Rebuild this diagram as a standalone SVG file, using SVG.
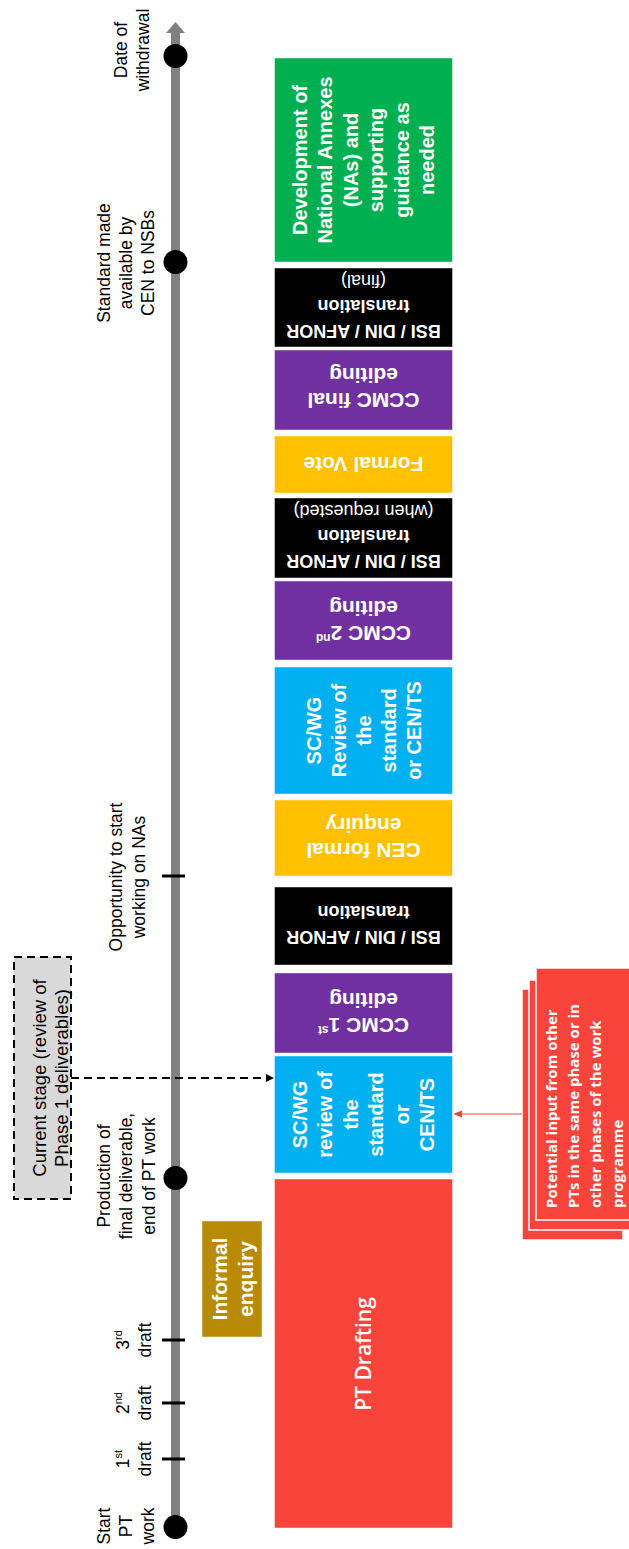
<svg xmlns="http://www.w3.org/2000/svg" width="629" height="1549" viewBox="0 0 629 1549">
  <style>
    .lbl { font-family: "Liberation Sans", Arial, sans-serif; font-size: 17.5px; fill: #000; text-anchor: middle; }
    .cur { font-family: "Liberation Sans", Arial, sans-serif; font-size: 18.5px; fill: #000; text-anchor: middle; }
    .bx { font-family: "Liberation Sans", Arial, sans-serif; font-weight: bold; fill: #fff; text-anchor: middle; }
    .bx20 { font-size: 20px; }
    .bx21 { font-size: 21px; }
    .bx18 { font-size: 18px; }
    .reg { font-weight: normal; }
    .cal { font-family: "Open Sans", "Noto Sans", sans-serif; fill: #fff; }
    .box { stroke: #fff; stroke-opacity: 0.45; stroke-width: 1; }
    .tick { stroke: #000; stroke-width: 3; }
    .dot { fill: #000; }
  </style>

  <!-- time axis -->
  <g id="timeline">
    <line x1="175.5" y1="1527" x2="175.5" y2="32" stroke="#808080" stroke-width="9"/>
    <polygon points="175.5,22 166,33 185,33" fill="#808080"/>
    <line class="tick" x1="162" y1="1459" x2="185" y2="1459"/>
    <line class="tick" x1="162" y1="1403" x2="185" y2="1403"/>
    <line class="tick" x1="162" y1="1340" x2="185" y2="1340"/>
    <line class="tick" x1="162" y1="876" x2="185" y2="876"/>
    <circle class="dot" cx="175.5" cy="1527" r="12"/>
    <circle class="dot" cx="175.5" cy="1178" r="12"/>
    <circle class="dot" cx="175.5" cy="262" r="12"/>
    <circle class="dot" cx="175.5" cy="56" r="12"/>
  </g>

  <!-- milestone labels -->
  <g id="milestones">
    <text class="lbl" transform="translate(0,1526) rotate(-90)">
      <tspan x="0" y="110">Start</tspan><tspan x="0" y="132">PT</tspan><tspan x="0" y="154">work</tspan>
    </text>
    <text class="lbl" transform="translate(0,1459) rotate(-90)">
      <tspan x="0" y="129">1<tspan font-size="11" dy="-7">st</tspan></tspan><tspan x="0" y="151">draft</tspan>
    </text>
    <text class="lbl" transform="translate(0,1403) rotate(-90)">
      <tspan x="0" y="129">2<tspan font-size="11" dy="-7">nd</tspan></tspan><tspan x="0" y="151">draft</tspan>
    </text>
    <text class="lbl" transform="translate(0,1340) rotate(-90)">
      <tspan x="0" y="129">3<tspan font-size="11" dy="-7">rd</tspan></tspan><tspan x="0" y="151">draft</tspan>
    </text>
    <text class="lbl" transform="translate(0,1176) rotate(-90)">
      <tspan x="0" y="110">Production of</tspan><tspan x="0" y="132">final deliverable,</tspan><tspan x="0" y="155">end of PT work</tspan>
    </text>
    <text class="lbl" transform="translate(0,877) rotate(-90)">
      <tspan x="0" y="122">Opportunity to start</tspan><tspan x="0" y="145">working on NAs</tspan>
    </text>
    <text class="lbl" transform="translate(0,263) rotate(-90)">
      <tspan x="0" y="110">Standard made</tspan><tspan x="0" y="132">available by</tspan><tspan x="0" y="154">CEN to NSBs</tspan>
    </text>
    <text class="lbl" transform="translate(0,50) rotate(-90)">
      <tspan x="0" y="127">Date of</tspan><tspan x="0" y="149">withdrawal</tspan>
    </text>
  </g>

  <!-- current stage call-out -->
  <g id="current-stage">
    <rect x="14" y="957" width="57" height="242" fill="#d9d9d9" stroke="#000" stroke-width="2" stroke-dasharray="8 5"/>
    <text class="cur" transform="translate(0,1078) rotate(-90)">
      <tspan x="0" y="46">Current stage (review of</tspan><tspan x="0" y="68">Phase 1 deliverables)</tspan>
    </text>
  </g>

  <g id="informal-enquiry">
    <rect class="box" x="202" y="1221" width="60" height="116" fill="#b88a05"/>
    <text class="bx bx21" transform="translate(232,1279) rotate(-90)">
      <tspan x="0" y="-5.5">Informal</tspan><tspan x="0" y="20.5">enquiry</tspan>
    </text>
  </g>

  <!-- process stages -->
  <g id="pt-drafting">
    <rect class="box" x="274.5" y="1179" width="178" height="349" fill="#f9443c"/>
    <text class="cal" font-size="21" font-weight="600" text-anchor="middle" transform="translate(363.5,1354) rotate(-90)" x="0" y="7">PT Drafting</text>
  </g>

  <g id="review-1">
    <rect class="box" x="274.5" y="1056" width="178" height="117" fill="#00b0f0"/>
    <text class="bx bx20" transform="translate(363.5,1114.5) rotate(-90)">
      <tspan x="0" y="-56.75">SC/WG</tspan><tspan x="0" y="-31.25">review of</tspan><tspan x="0" y="-5.75">the</tspan><tspan x="0" y="19.75">standard</tspan><tspan x="0" y="45.25">or</tspan><tspan x="0" y="70.75">CEN/TS</tspan>
    </text>
  </g>

  <g id="ccmc-1st">
    <rect class="box" x="274.5" y="973" width="178" height="80" fill="#7030a0"/>
    <text class="bx bx21" transform="translate(363.5,1013) rotate(180)">
      <tspan x="0" y="-5">CCMC 1<tspan font-size="12" dy="-8">st</tspan></tspan><tspan x="0" y="20">editing</tspan>
    </text>
  </g>

  <g id="translation-1">
    <rect class="box" x="274.5" y="887" width="178" height="78" fill="#000"/>
    <text class="bx bx18" transform="translate(363.5,926) rotate(180)">
      <tspan x="0" y="-5">BSI / DIN / AFNOR</tspan><tspan x="0" y="20">translation</tspan>
    </text>
  </g>

  <g id="cen-enquiry">
    <rect class="box" x="274.5" y="800" width="178" height="76" fill="#ffc000"/>
    <text class="bx bx21" transform="translate(363.5,838) rotate(180)">
      <tspan x="0" y="-5">CEN formal</tspan><tspan x="0" y="20">enquiry</tspan>
    </text>
  </g>

  <g id="review-2">
    <rect class="box" x="274.5" y="667" width="178" height="127" fill="#00b0f0"/>
    <text class="bx bx20" transform="translate(363.5,730.5) rotate(-90)">
      <tspan x="0" y="-43">SC/WG</tspan><tspan x="0" y="-18">Review of</tspan><tspan x="0" y="7">the</tspan><tspan x="0" y="32">standard</tspan><tspan x="0" y="57">or CEN/TS</tspan>
    </text>
  </g>

  <g id="ccmc-2nd">
    <rect class="box" x="274.5" y="581" width="178" height="79" fill="#7030a0"/>
    <text class="bx bx21" transform="translate(363.5,620.5) rotate(180)">
      <tspan x="0" y="-5">CCMC 2<tspan font-size="12" dy="-8">nd</tspan></tspan><tspan x="0" y="20">editing</tspan>
    </text>
  </g>

  <g id="translation-2">
    <rect class="box" x="274.5" y="498" width="178" height="80" fill="#000"/>
    <text class="bx bx18" transform="translate(363.5,538) rotate(180)">
      <tspan x="0" y="-17">BSI / DIN / AFNOR</tspan><tspan x="0" y="8">translation</tspan><tspan class="reg" x="0" y="33">(when requested)</tspan>
    </text>
  </g>

  <g id="formal-vote">
    <rect class="box" x="274.5" y="436" width="178" height="57" fill="#ffc000"/>
    <text class="bx bx21" transform="translate(363.5,464.5) rotate(180)" x="0" y="7.5">Formal Vote</text>
  </g>

  <g id="ccmc-final">
    <rect class="box" x="274.5" y="350" width="178" height="80" fill="#7030a0"/>
    <text class="bx bx21" transform="translate(363.5,388) rotate(180)">
      <tspan x="0" y="-5">CCMC final</tspan><tspan x="0" y="20">editing</tspan>
    </text>
  </g>

  <g id="translation-final">
    <rect class="box" x="274.5" y="268" width="178" height="79" fill="#000"/>
    <text class="bx bx18" transform="translate(363.5,307.5) rotate(180)">
      <tspan x="0" y="-17">BSI / DIN / AFNOR</tspan><tspan x="0" y="8">translation</tspan><tspan class="reg" x="0" y="33">(final)</tspan>
    </text>
  </g>

  <g id="national-annexes">
    <rect class="box" x="274.5" y="58" width="178" height="204" fill="#00b050"/>
    <text class="bx bx20" transform="translate(363.5,160) rotate(-90)">
      <tspan x="0" y="-56.75">Development of</tspan><tspan x="0" y="-31.25">National Annexes</tspan><tspan x="0" y="-5.75">(NAs) and</tspan><tspan x="0" y="19.75">supporting</tspan><tspan x="0" y="45.25">guidance as</tspan><tspan x="0" y="70.75">needed</tspan>
    </text>
  </g>

  <!-- stacked note on inputs from other PTs -->
  <g id="other-pts">
    <rect x="522" y="989" width="101" height="251" fill="#f9443c" stroke="#fff" stroke-width="1.5"/>
    <rect x="529" y="980" width="104" height="250" fill="#f9443c" stroke="#fff" stroke-width="1.5"/>
    <rect x="536" y="968" width="104" height="252" fill="#f9443c" stroke="#fff" stroke-width="1.5"/>
    <text class="cal" font-size="15" font-weight="bold" transform="translate(0,1208) rotate(-90)">
      <tspan x="0" y="557">Potential input from other</tspan><tspan x="0" y="579">PTs in the same phase or in</tspan><tspan x="0" y="601">other phases of the work</tspan><tspan x="0" y="623">programme</tspan>
    </text>
  </g>

  <!-- connectors -->
  <g id="connectors">
    <line x1="71" y1="1078" x2="266" y2="1078" stroke="#000" stroke-width="2" stroke-dasharray="8 5"/>
    <polygon points="274,1078 266,1074 266,1082" fill="#000"/>
    <line x1="522" y1="1114" x2="461" y2="1114" stroke="#f9443c" stroke-width="1"/>
    <polygon points="453,1114 462,1110.5 462,1117.5" fill="#f9443c"/>
  </g>
</svg>
